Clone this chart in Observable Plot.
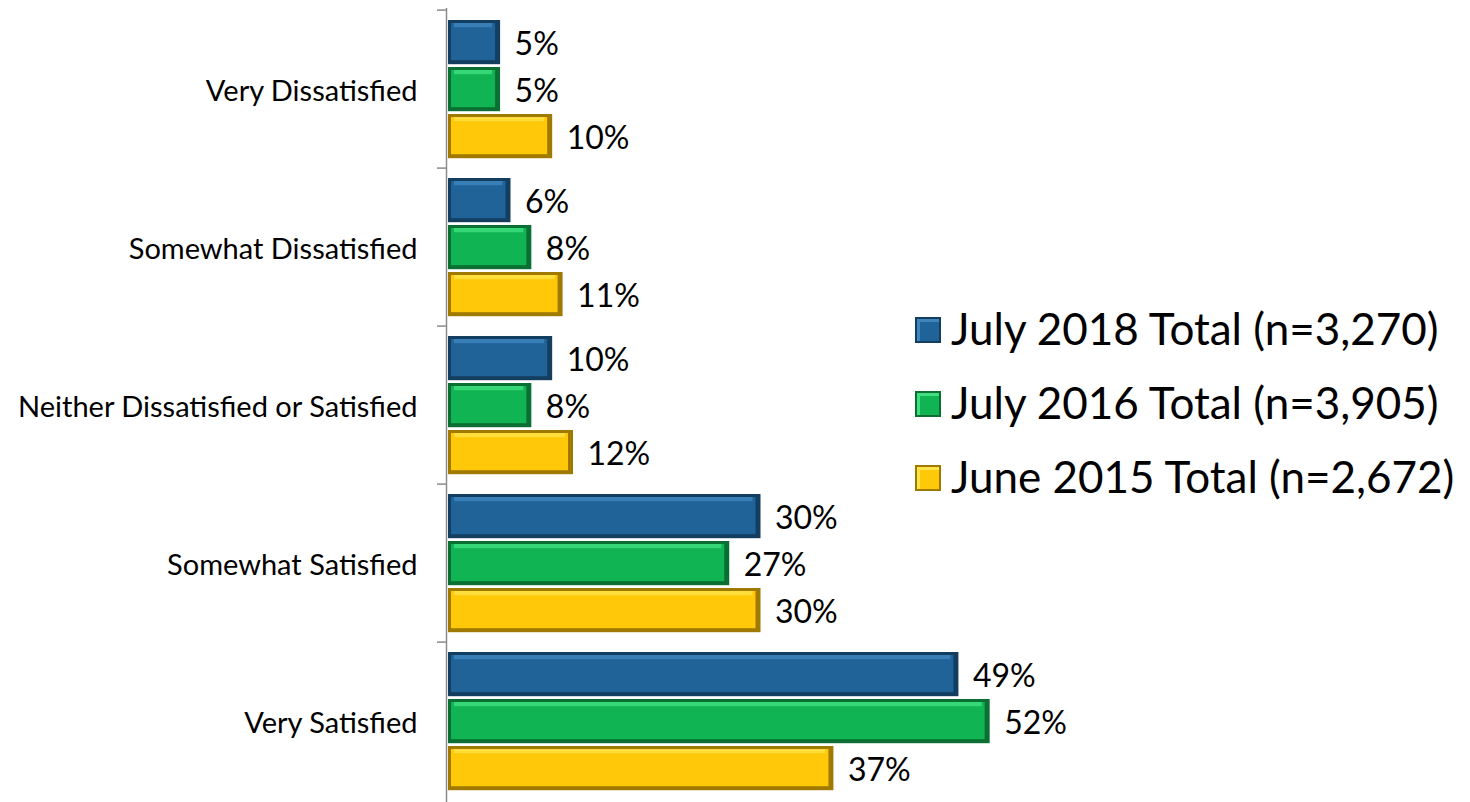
<!DOCTYPE html>
<html>
<head>
<meta charset="utf-8">
<script src="https://cdn.jsdelivr.net/npm/d3@7"></script>
<script src="https://cdn.jsdelivr.net/npm/@observablehq/plot@0.6"></script>
<style>
  html, body { margin: 0; padding: 0; background: #fff; }
  #wrap { position: relative; width: 1470px; height: 802px; font-family: Lato, "Open Sans", sans-serif; }
  #legend { position: absolute; left: 915px; top: 291px; }
  .item { display: flex; align-items: center; height: 74px; font-size: 44px; color: #000; white-space: nowrap; }
  .sw { width: 26px; height: 26px; box-sizing: border-box; margin-right: 10px; margin-top: 4px; flex: none; }
</style>
</head>
<body>
<div id="wrap"><div id="chart"></div><div id="legend"></div></div>
<script>
const categories = ["Very Dissatisfied", "Somewhat Dissatisfied", "Neither Dissatisfied or Satisfied", "Somewhat Satisfied", "Very Satisfied"];
const seriesNames = ["July 2018 Total (n=3,270)", "July 2016 Total (n=3,905)", "June 2015 Total (n=2,672)"];
const july2018 = [5, 6, 10, 30, 49];
const july2016 = [5, 8, 8, 27, 52];
const june2015 = [10, 11, 12, 30, 37];
const seriesValues = [july2018, july2016, june2015];

const faceColors = ["#1f6399", "#10b452", "#ffc808"];
const edgeColors = ["#143e60", "#0b6e33", "#a07a00"];
const lightColors = ["#3f86bf", "#3ee07f", "#ffe34a"];

const rows = [];
seriesNames.forEach((s, si) => categories.forEach((c, ci) => rows.push({series: s, si, category: c, value: seriesValues[si][ci]})));

const W = 1470, H = 802, mTop = 8, mBottom = 0, mLeft = 448, mRight = 397;
const bw = (H - mTop - mBottom) / categories.length;
const padTop = 10, barH = 45, gap = 2;

const marks = [];
seriesNames.forEach((s, si) => {
  const data = rows.filter(d => d.si === si);
  const top = padTop + si * (barH + gap);
  const bottom = bw - top - barH;
  marks.push(Plot.barX(data, {x: "value", y: "category", fill: edgeColors[si], insetTop: top, insetBottom: bottom}));
  marks.push(Plot.barX(data, {x: "value", y: "category", fill: faceColors[si], insetTop: top + 3, insetBottom: bottom + 4, insetLeft: 3, insetRight: 5}));
  marks.push(Plot.barX(data, {x: "value", y: "category", fill: lightColors[si], insetTop: top + 3, insetBottom: bw - top - 8, insetLeft: 6, insetRight: 8, fillOpacity: 0.8}));
  marks.push(Plot.text(data, {x: "value", y: "category", text: d => d.value + "%", dx: 14, dy: top + barH / 2 - bw / 2 + 2, textAnchor: "start", fontSize: 32, fill: "#000"}));
});

const plot = Plot.plot({
  width: W,
  height: H,
  marginTop: mTop,
  marginBottom: mBottom,
  marginLeft: mLeft,
  marginRight: mRight,
  style: {fontFamily: "Lato, 'Open Sans', sans-serif", background: "#fff"},
  x: {domain: [0, 60], axis: null},
  y: {domain: categories, padding: 0, axis: null, label: null},
  marks: [
    ...marks,
    Plot.ruleX([0], {dx: -2, stroke: "#8c8c8c", strokeWidth: 1.5}),
    Plot.axisY({tickSize: 9, text: null, label: null, dy: -bw / 2, dx: -2, stroke: "#8c8c8c", strokeWidth: 1.5}),
    Plot.axisY({tickSize: 0, tickPadding: 31, label: null, fontSize: 29, fill: "#000", dy: 2})
  ]
});
document.getElementById("chart").appendChild(plot);

const legend = document.getElementById("legend");
seriesNames.forEach((s, si) => {
  const item = document.createElement("div");
  item.className = "item";
  const sw = document.createElement("div");
  sw.className = "sw";
  sw.style.background = faceColors[si];
  sw.style.border = "2px solid " + edgeColors[si];
  sw.style.boxShadow = "inset 3px 3px 0 " + lightColors[si];
  const label = document.createElement("span");
  label.textContent = s;
  item.appendChild(sw);
  item.appendChild(label);
  legend.appendChild(item);
});
</script>
</body>
</html>
